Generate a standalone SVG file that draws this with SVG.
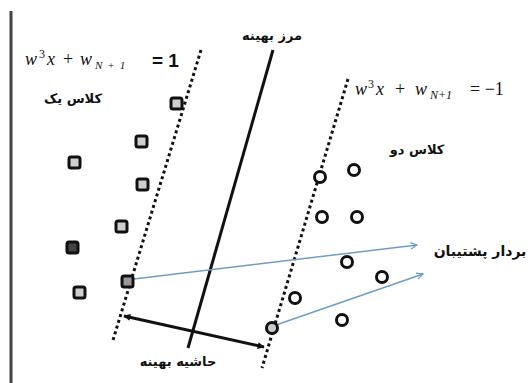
<svg xmlns="http://www.w3.org/2000/svg" width="531" height="383" viewBox="0 0 531 383">
<style>
.sq{fill:#cfcfcf;stroke:#111;stroke-width:3}
.ci{fill:#fff;stroke:#111;stroke-width:3}
.dash{stroke:#111;stroke-width:3;stroke-dasharray:3 3;fill:none}
.fa{font-family:"DejaVu Sans",sans-serif;font-weight:bold;fill:#111}
.eq{font-family:"Liberation Serif",serif;fill:#111}
.it{font-style:italic}
.blue{stroke:#6f9cc4;stroke-width:1.5;fill:none}
</style>
<defs>
<marker id="ba" viewBox="0 0 10 10" refX="9" refY="5" markerWidth="8" markerHeight="8" orient="auto" markerUnits="userSpaceOnUse">
<path d="M1,1 L9,5 L1,9" fill="none" stroke="#6f9cc4" stroke-width="1.5"/>
</marker>
<marker id="ka" viewBox="0 0 10 10" refX="9" refY="5" markerWidth="9" markerHeight="7" orient="auto-start-reverse" markerUnits="userSpaceOnUse">
<path d="M0,0 L10,5 L0,10 z" fill="#111"/>
</marker>
</defs>
<rect width="531" height="383" fill="#fff"/>
<line x1="11" y1="11" x2="11" y2="383" stroke="#444" stroke-width="3"/>

<g id="connectors">
<line class="dash" x1="201" y1="50" x2="113" y2="340"/>
<line class="dash" x1="348" y1="79" x2="262" y2="368"/>
<line x1="273" y1="50" x2="188" y2="348" stroke="#111" stroke-width="3"/>
<line x1="124" y1="316" x2="264" y2="347" stroke="#111" stroke-width="3" marker-start="url(#ka)" marker-end="url(#ka)"/>
<line class="blue" x1="134" y1="279" x2="417" y2="245" marker-end="url(#ba)"/>
<line class="blue" x1="276" y1="325" x2="423" y2="274" marker-end="url(#ba)"/>
</g>

<g id="class1">
<rect class="sq" x="171" y="98" width="11" height="11" rx="2"/>
<rect class="sq" x="136" y="136" width="11" height="11" rx="2"/>
<rect class="sq" x="69" y="157" width="11" height="11" rx="2"/>
<rect class="sq" x="137" y="179" width="11" height="11" rx="2"/>
<rect class="sq" x="116" y="221" width="11" height="11" rx="2"/>
<rect class="sq" x="67" y="242" width="11" height="11" rx="2" style="fill:#444"/>
<rect class="sq" x="122" y="276" width="11" height="11" rx="2" style="fill:#999"/>
<rect class="sq" x="74" y="287" width="11" height="11" rx="2"/>
</g>

<g id="class2">
<circle class="ci" cx="320" cy="177" r="5.5"/>
<circle class="ci" cx="354" cy="170" r="5.5"/>
<circle class="ci" cx="322" cy="217" r="5.5"/>
<circle class="ci" cx="357" cy="217" r="5.5"/>
<circle class="ci" cx="347" cy="262" r="5.5"/>
<circle class="ci" cx="382" cy="277" r="5.5"/>
<circle class="ci" cx="295" cy="298" r="5.5"/>
<circle class="ci" cx="342" cy="320" r="5.5"/>
<circle class="ci" cx="272" cy="328" r="5.5" style="fill:#ccc"/>
</g>

<g id="eq1">
<text class="eq" y="65" font-size="18"><tspan class="it" x="25">w</tspan><tspan x="39" dy="-7" font-size="12">3</tspan><tspan class="it" x="47" dy="7">x</tspan><tspan x="63">+</tspan><tspan class="it" x="80">w</tspan><tspan class="it" x="95" dy="4" font-size="11" letter-spacing="5">N+1</tspan></text>
<text x="152" y="67" font-family="Liberation Sans,sans-serif" font-weight="bold" font-size="19" fill="#111">= 1</text>
</g>

<g id="eq2">
<text class="eq" y="95" font-size="18"><tspan class="it" x="355">w</tspan><tspan x="368" dy="-7" font-size="12">3</tspan><tspan class="it" x="376" dy="7">x</tspan><tspan x="395">+</tspan><tspan class="it" x="415">w</tspan><tspan class="it" x="430" dy="4" font-size="12">N+1</tspan><tspan x="470" dy="-4">= −1</tspan></text>
</g>

<g id="labels">
<text class="fa" x="73" y="103" font-size="13" text-anchor="middle">کلاس یک</text>
<text class="fa" x="417" y="154" font-size="13" text-anchor="middle">کلاس دو</text>
<text class="fa" x="272" y="40" font-size="13" text-anchor="middle">مرز بهینه</text>
<text class="fa" x="178" y="366" font-size="13" text-anchor="middle">حاشیه بهینه</text>
<text class="fa" x="480" y="256" font-size="14" text-anchor="middle">بردار پشتیبان</text>
</g>
</svg>
